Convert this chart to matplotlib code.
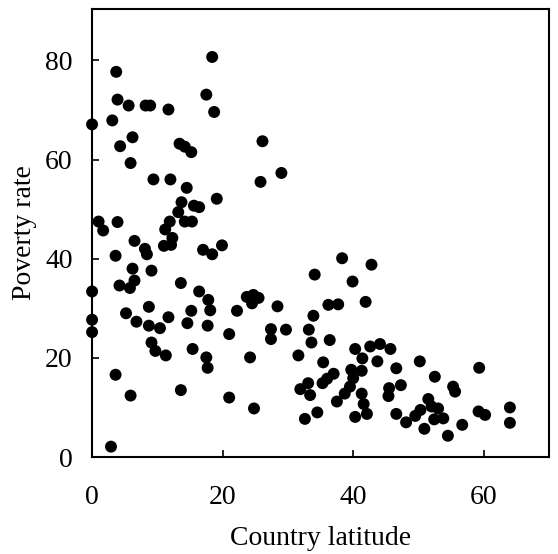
import matplotlib
matplotlib.use("Agg")
import matplotlib.pyplot as plt

# Country latitude (x) and poverty rate (y)
latitude = [
    0.0, 0.0, 0.0, 0.0,
    3.7, 3.9, 5.6, 8.2, 8.9, 3.1, 6.2, 4.3, 5.9, 9.4,
    1.0, 1.7, 3.9, 6.5, 8.1, 8.4, 3.6, 6.2, 9.1, 6.5, 4.2, 5.8,
    8.7, 5.2, 6.8, 8.7, 9.1, 9.7, 3.6, 5.9, 2.9,
    11.7, 12.0, 13.4, 14.2, 15.2, 14.5, 18.4, 17.5, 18.7, 19.1,
    16.4, 13.7, 15.6, 13.2, 14.2, 15.3, 11.9, 11.2, 12.3, 11.0,
    12.1, 17.0, 18.4, 19.9, 13.6, 16.4, 17.8, 10.4, 11.7, 15.2,
    14.6, 11.3, 15.4, 13.6, 18.1, 17.7, 17.5, 17.7,
    26.1, 29.0, 25.8, 21.0, 22.2, 23.7, 24.7, 25.5, 24.5, 28.4,
    27.4, 27.4, 29.7, 24.2, 21.0, 24.8,
    34.1, 31.6, 33.2, 33.6, 33.9, 36.2, 37.7, 35.4, 31.9, 33.1,
    33.4, 32.6, 34.5, 38.3, 39.9, 36.4, 37.0, 36.0, 35.3, 37.5,
    38.7, 39.5, 40.0, 39.7, 41.3, 40.3, 42.6, 44.1, 45.7, 41.4,
    43.7, 42.8, 41.9, 41.3, 41.6, 42.1, 40.3,
    46.6, 47.3, 45.5, 45.4, 46.6, 48.1, 49.5, 50.3, 51.5, 52.0,
    53.0, 53.8, 52.4, 50.9, 54.5, 56.7, 50.2, 52.5, 55.3, 55.6,
    59.3, 59.2, 60.2, 64.0, 64.0,
]
poverty = [
    67.1, 33.4, 27.7, 25.2,
    77.7, 72.1, 70.9, 70.9, 70.9, 67.9, 64.5, 62.7, 59.3, 56.0,
    47.5, 45.7, 47.4, 43.6, 42.0, 40.9, 40.6, 38.0, 37.6, 35.6, 34.6, 34.1,
    30.3, 29.0, 27.3, 26.5, 23.1, 21.4, 16.6, 12.4, 2.1,
    70.1, 56.0, 63.2, 62.6, 61.5, 54.3, 80.7, 73.1, 69.6, 52.1,
    50.4, 51.4, 50.7, 49.4, 47.5, 47.5, 47.5, 45.9, 44.2, 42.6,
    42.8, 41.8, 40.9, 42.7, 35.1, 33.4, 31.7, 26.0, 28.2, 29.5,
    27.0, 20.5, 21.8, 13.5, 29.6, 26.5, 20.1, 18.0,
    63.7, 57.3, 55.5, 24.8, 29.5, 32.3, 32.7, 32.1, 31.0, 30.4,
    25.8, 23.8, 25.7, 20.1, 12.0, 9.8,
    36.8, 20.5, 25.7, 23.1, 28.5, 30.7, 30.8, 19.1, 13.7, 14.9,
    12.5, 7.7, 9.0, 40.1, 35.4, 23.6, 16.8, 15.8, 14.9, 11.2,
    12.8, 14.2, 15.9, 17.6, 17.4, 21.8, 22.3, 22.8, 21.8, 19.9,
    19.3, 38.8, 31.3, 12.8, 10.7, 8.7, 8.1,
    17.9, 14.5, 13.9, 12.3, 8.7, 7.0, 8.3, 9.5, 11.7, 10.2,
    9.8, 7.8, 7.6, 5.7, 4.3, 6.5, 19.3, 16.2, 14.2, 13.2,
    18.0, 9.2, 8.5, 10.0, 6.9,
]
x_ticks = [0, 20, 40, 60]
y_ticks = [0, 20, 40, 60, 80]

plt.rcParams['font.family'] = ['Liberation Serif', 'DejaVu Serif']

fig = plt.figure(figsize=(5.58, 5.54), dpi=100)
ax = fig.add_axes([0.165, 0.175, 0.819, 0.809])
ax.scatter(latitude, poverty, s=74, c='black', edgecolors='none', zorder=3, clip_on=False)
ax.set_xlim(0, 70)
ax.set_ylim(0, 90.4)
ax.set_xticks(x_ticks)
ax.set_yticks(y_ticks)
ax.tick_params(direction='in', length=5, width=1.2, labelsize=20, pad=20,
               top=False, right=False)
ax.tick_params(axis='y', pad=14)
for sp in ax.spines.values():
    sp.set_linewidth(1.5)
ax.set_xlabel('Country latitude', fontsize=20, labelpad=12)
ax.set_ylabel('Poverty rate', fontsize=20, labelpad=6)
fig.savefig('out.png', dpi=100)
